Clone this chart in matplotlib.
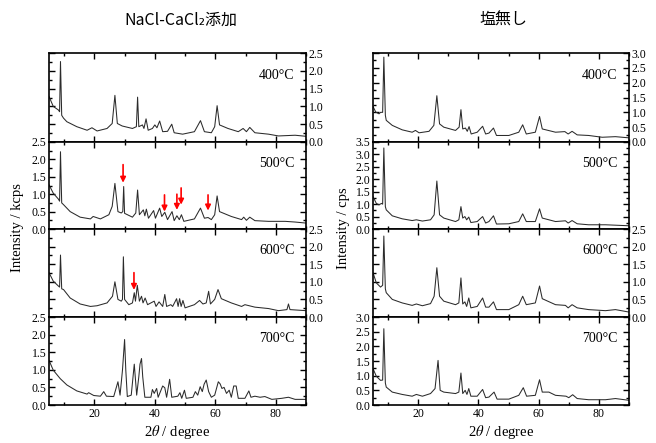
import matplotlib
matplotlib.use("Agg")
import matplotlib.pyplot as plt
from matplotlib.ticker import MultipleLocator

plt.rcParams['font.family'] = ['Liberation Serif', 'DejaVu Serif']
plt.rcParams['mathtext.fontset'] = 'stix'

temps = ['400°C', '500°C', '600°C', '700°C']

# --- NaCl-CaCl2 added (left column), intensity in kcps ---
x_salt_400 = [5.0, 6.4, 8.1, 8.5, 8.8, 9.2, 9.8, 10.9, 14.2, 17.6, 19.2, 20.9, 24.2, 25.9, 26.8, 27.6, 29.2, 32.6, 33.9, 34.3,
              34.7, 35.9, 36.4, 37.1, 37.8, 39.2, 40.0, 40.7, 41.6, 42.6, 44.2, 45.6, 46.4, 49.2, 53.1, 55.1, 56.4, 58.7,
              59.8, 60.6, 61.4, 64.2, 67.6, 69.2, 70.3, 71.4, 73.1, 77.6, 80.9, 86.4, 90.0]
y_salt_400 = [1.28, 1.0, 0.9, 0.85, 2.26, 0.75, 0.67, 0.57, 0.43, 0.33, 0.4, 0.31, 0.38, 0.52, 1.31, 0.52, 0.45, 0.38, 0.43, 1.26,
              0.43, 0.48, 0.38, 0.65, 0.33, 0.38, 0.48, 0.4, 0.59, 0.29, 0.3, 0.5, 0.26, 0.22, 0.29, 0.6, 0.29, 0.26,
              0.43, 1.02, 0.48, 0.38, 0.29, 0.38, 0.29, 0.41, 0.26, 0.22, 0.17, 0.19, 0.16]

x_salt_500 = [5.0, 6.4, 8.1, 8.5, 8.8, 9.2, 9.8, 12.0, 15.3, 18.7, 19.6, 22.0, 24.8, 25.9, 26.8, 27.8, 28.9, 29.4, 29.7, 30.0,
              32.6, 33.7, 34.3, 34.9, 36.2, 36.7, 37.2, 37.9, 39.6, 40.2, 41.6, 42.3, 43.3, 44.2, 45.7, 46.4, 47.3, 48.1,
              48.8, 49.6, 53.1, 55.1, 56.4, 57.6, 58.7, 59.8, 60.6, 61.4, 65.3, 68.7, 69.4, 70.3, 71.4, 73.1, 77.6, 83.1,
              86.4, 90.0]
y_salt_500 = [1.27, 1.03, 0.86, 0.8, 2.22, 0.75, 0.7, 0.5, 0.34, 0.29, 0.36, 0.29, 0.41, 0.65, 1.31, 0.5, 0.46, 0.5, 1.22, 0.45,
              0.34, 0.46, 1.12, 0.41, 0.55, 0.38, 0.57, 0.31, 0.53, 0.31, 0.6, 0.36, 0.48, 0.27, 0.5, 0.24, 0.38, 0.27,
              0.41, 0.22, 0.29, 0.6, 0.31, 0.33, 0.27, 0.41, 0.95, 0.5, 0.36, 0.27, 0.34, 0.25, 0.34, 0.24, 0.22, 0.22,
              0.2, 0.17]

x_salt_600 = [5.0, 6.4, 8.1, 8.5, 8.8, 9.2, 9.8, 12.0, 15.3, 18.7, 20.9, 24.2, 26.0, 26.8, 27.8, 28.9, 29.3, 29.6, 30.0, 31.4,
              32.6, 33.2, 33.6, 34.2, 34.9, 35.6, 36.1, 36.8, 37.6, 39.8, 40.4, 41.4, 42.6, 43.3, 43.9, 45.3, 45.9, 47.2,
              47.7, 48.2, 48.7, 49.3, 50.0, 53.1, 54.8, 55.9, 57.0, 57.8, 58.4, 59.8, 60.9, 62.0, 65.3, 68.7, 69.8, 73.1,
              77.6, 80.9, 83.7, 84.2, 84.7, 90.0]
y_salt_600 = [1.26, 1.02, 0.88, 0.85, 1.76, 0.8, 0.78, 0.54, 0.37, 0.3, 0.32, 0.4, 0.59, 1.0, 0.5, 0.45, 0.5, 1.71, 0.5, 0.35,
              0.4, 0.69, 0.45, 0.9, 0.45, 0.59, 0.4, 0.54, 0.35, 0.45, 0.3, 0.43, 0.3, 0.64, 0.3, 0.35, 0.3, 0.52,
              0.3, 0.52, 0.3, 0.47, 0.26, 0.35, 0.47, 0.37, 0.4, 0.73, 0.37, 0.5, 0.78, 0.52, 0.4, 0.3, 0.35, 0.28,
              0.24, 0.18, 0.21, 0.37, 0.21, 0.18]

x_salt_700 = [5.0, 6.4, 8.7, 10.9, 14.2, 17.6, 18.1, 19.8, 22.0, 23.1, 24.0, 26.4, 27.8, 28.5, 29.3, 30.0, 30.4, 30.9, 32.2,
              33.2, 34.0, 34.7, 35.1, 35.6, 36.0, 36.7, 38.7, 39.2, 39.8, 40.6, 41.1, 42.6, 43.3, 43.9, 44.9, 45.6, 47.6,
              48.3, 48.9, 49.8, 50.4, 52.6, 53.4, 54.2, 55.0, 55.7, 56.3, 57.0, 57.8, 58.7, 59.8, 61.0, 61.6, 62.2, 62.9,
              63.7, 64.6, 65.3, 66.1, 66.9, 67.6, 69.8, 71.1, 71.8, 73.1, 74.8, 76.4, 78.7, 82.0, 84.2, 86.4, 90.0]
y_salt_700 = [1.27, 0.99, 0.75, 0.57, 0.4, 0.31, 0.35, 0.27, 0.25, 0.38, 0.25, 0.24, 0.66, 0.28, 0.99, 1.86, 0.99, 0.24, 0.28,
              1.16, 0.28, 0.8, 1.16, 1.32, 0.8, 0.22, 0.22, 0.44, 0.33, 0.47, 0.22, 0.54, 0.49, 0.22, 0.73, 0.22, 0.25,
              0.35, 0.19, 0.42, 0.19, 0.22, 0.38, 0.28, 0.52, 0.38, 0.59, 0.71, 0.38, 0.22, 0.28, 0.66, 0.6, 0.47, 0.5,
              0.33, 0.42, 0.22, 0.54, 0.54, 0.19, 0.19, 0.4, 0.22, 0.25, 0.22, 0.24, 0.16, 0.19, 0.22, 0.16, 0.16]

# --- no salt (right column), intensity in cps ---
x_none_400 = [5.0, 5.9, 7.0, 7.5, 8.2, 8.6, 9.1, 9.4, 11.4, 14.7, 18.0, 19.1, 20.3, 23.6, 25.2, 26.2, 27.1, 28.5, 32.4, 33.6,
              34.2, 34.8, 35.7, 36.3, 36.9, 37.6, 39.6, 41.4, 42.4, 43.5, 45.0, 46.0, 50.1, 53.4, 54.7, 55.9, 58.9, 60.3,
              61.2, 65.6, 68.7, 69.8, 71.1, 72.8, 76.6, 81.1, 85.5, 90.0]
y_none_400 = [1.2, 1.01, 0.95, 1.0, 1.0, 2.86, 0.9, 0.73, 0.56, 0.41, 0.33, 0.39, 0.31, 0.36, 0.56, 1.56, 0.61, 0.5, 0.39, 0.5,
              1.09, 0.44, 0.47, 0.36, 0.52, 0.27, 0.33, 0.53, 0.27, 0.3, 0.47, 0.22, 0.22, 0.33, 0.58, 0.27, 0.33, 0.86,
              0.44, 0.33, 0.35, 0.27, 0.36, 0.24, 0.22, 0.16, 0.18, 0.14]

x_none_500 = [5.0, 6.1, 7.0, 7.8, 8.2, 8.6, 9.1, 9.4, 11.4, 14.7, 18.0, 19.4, 21.4, 24.1, 25.3, 26.2, 27.1, 28.5, 32.4, 33.5,
              34.2, 34.8, 35.5, 36.1, 36.8, 37.5, 39.6, 41.4, 42.4, 43.5, 45.0, 46.0, 50.1, 53.4, 54.7, 55.9, 58.9, 60.3,
              61.2, 65.6, 68.9, 69.8, 71.1, 72.8, 76.6, 82.2, 90.0]
y_none_500 = [1.3, 1.03, 0.97, 1.03, 1.0, 3.26, 0.9, 0.77, 0.53, 0.41, 0.34, 0.37, 0.32, 0.37, 0.57, 1.93, 0.57, 0.44, 0.3, 0.37,
              0.9, 0.44, 0.5, 0.37, 0.48, 0.26, 0.3, 0.5, 0.24, 0.3, 0.53, 0.2, 0.21, 0.3, 0.61, 0.3, 0.3, 0.81,
              0.44, 0.3, 0.33, 0.24, 0.34, 0.21, 0.17, 0.17, 0.13]

x_none_600 = [5.0, 6.1, 7.5, 8.2, 8.6, 9.1, 9.4, 11.4, 14.7, 18.0, 19.4, 21.4, 24.1, 25.3, 26.2, 27.1, 28.5, 32.4, 33.5, 34.2,
              34.8, 35.5, 36.1, 36.8, 37.5, 39.6, 41.4, 42.4, 43.5, 45.0, 46.0, 50.1, 53.4, 54.7, 55.9, 58.9, 60.3, 61.2,
              65.6, 68.9, 69.8, 71.1, 72.8, 76.6, 82.2, 85.5, 90.0]
y_none_600 = [1.26, 0.97, 0.85, 0.9, 2.3, 0.8, 0.69, 0.5, 0.4, 0.33, 0.37, 0.32, 0.38, 0.59, 1.4, 0.59, 0.45, 0.35, 0.4, 1.11,
              0.37, 0.43, 0.3, 0.54, 0.26, 0.3, 0.54, 0.28, 0.28, 0.43, 0.21, 0.21, 0.35, 0.59, 0.35, 0.4, 0.88, 0.52,
              0.35, 0.33, 0.26, 0.35, 0.26, 0.21, 0.18, 0.21, 0.14]

x_none_700 = [5.0, 6.1, 7.5, 8.2, 8.6, 9.1, 9.4, 11.4, 14.7, 18.0, 19.4, 21.4, 24.1, 25.6, 26.6, 27.3, 28.5, 32.4, 33.5, 34.2,
              34.8, 35.6, 36.2, 36.8, 37.5, 39.6, 41.4, 42.4, 43.5, 45.2, 46.2, 50.1, 53.4, 54.9, 56.0, 58.9, 60.3, 61.2,
              63.4, 65.6, 69.1, 70.0, 71.3, 72.8, 76.6, 82.2, 85.5, 90.0]
y_none_700 = [1.24, 0.98, 0.84, 0.85, 2.6, 0.75, 0.61, 0.44, 0.36, 0.3, 0.36, 0.3, 0.39, 0.56, 1.52, 0.5, 0.44, 0.39, 0.44, 1.09,
              0.39, 0.5, 0.36, 0.56, 0.3, 0.3, 0.53, 0.25, 0.27, 0.44, 0.2, 0.2, 0.33, 0.59, 0.3, 0.33, 0.86, 0.44,
              0.44, 0.33, 0.3, 0.25, 0.35, 0.22, 0.18, 0.18, 0.22, 0.16]

salt_x = [x_salt_400, x_salt_500, x_salt_600, x_salt_700]
salt_y = [y_salt_400, y_salt_500, y_salt_600, y_salt_700]
none_x = [x_none_400, x_none_500, x_none_600, x_none_700]
none_y = [y_none_400, y_none_500, y_none_600, y_none_700]
salt_ymax = [2.5, 2.5, 2.5, 2.5]
none_ymax = [3.0, 3.5, 2.5, 3.0]

# red arrows: (panel index, 2theta, arrow top, arrow tip)
arrow_panel = [1, 1, 1, 1, 1, 2]
arrow_x = [29.5, 43.2, 47.3, 48.7, 57.6, 33.1]
arrow_top = [1.85, 0.98, 1.0, 1.18, 0.98, 1.26]
arrow_tip = [1.33, 0.5, 0.55, 0.7, 0.53, 0.77]

fig = plt.figure(figsize=(6.56, 4.43), dpi=100)

W, H = 656, 443
col_left = [49, 373]
col_width = [257, 256]
panel_top = [53, 142, 229, 317]
panel_h = [89, 87, 88, 88]


def make_panel(col, row, xs, ys, ymax):
    l = col_left[col] / W
    b = 1 - (panel_top[row] + panel_h[row]) / H
    ax = fig.add_axes([l, b, col_width[col] / W, panel_h[row] / H])
    ax.plot(xs, ys, color='#2b2b2b', lw=0.75)
    ax.set_xlim(5, 90)
    ax.set_ylim(0, ymax)
    ax.xaxis.set_major_locator(MultipleLocator(20))
    ax.xaxis.set_minor_locator(MultipleLocator(10))
    ax.yaxis.set_major_locator(MultipleLocator(0.5))
    ax.yaxis.set_minor_locator(MultipleLocator(0.25))
    right = (row % 2 == 0)
    ax.tick_params(which='both', direction='in', top=True, bottom=True, left=True, right=True,
                   labelleft=not right, labelright=right, labelbottom=(row == 3), labelsize=8.5,
                   width=1.0, pad=2)
    ax.tick_params(which='major', length=4)
    ax.tick_params(which='minor', length=2)
    for s in ax.spines.values():
        s.set_linewidth(1.2)
    ax.set_yticks([v * 0.5 for v in range(int(ymax / 0.5) + 1)])
    ax.set_yticklabels(['%.1f' % (v * 0.5) for v in range(int(ymax / 0.5) + 1)])
    ax.text(0.955, 0.75, temps[row], transform=ax.transAxes, ha='right', va='center', fontsize=10)
    if row == 3:
        ax.set_xlabel('2$\\theta$ / degree', fontsize=10.5, labelpad=2)
    return ax


salt_axes = []
for i in range(4):
    salt_axes.append(make_panel(0, i, salt_x[i], salt_y[i], salt_ymax[i]))
for i in range(4):
    make_panel(1, i, none_x[i], none_y[i], none_ymax[i])

for p, x, yt, yb in zip(arrow_panel, arrow_x, arrow_top, arrow_tip):
    salt_axes[p].annotate('', xy=(x, yb), xytext=(x, yt),
                          arrowprops=dict(arrowstyle='-|>', color='red', lw=1.2,
                                          mutation_scale=8, shrinkA=0, shrinkB=0))

fig.text(18 / W, 1 - 228 / H, 'Intensity / kcps', rotation=90, ha='center', va='center', fontsize=10.5)
fig.text(343 / W, 1 - 228 / H, 'Intensity / cps', rotation=90, ha='center', va='center', fontsize=10.5)

cjk = ['Noto Sans CJK JP', 'DejaVu Sans']
fig.text(181 / W, 1 - 20 / H, 'NaCl-CaCl₂添加', ha='center', va='center', fontsize=11.5, family=cjk)
fig.text(503 / W, 1 - 20 / H, '塩無し', ha='center', va='center', fontsize=11.5, family=cjk)

fig.savefig('out.png', dpi=100)
